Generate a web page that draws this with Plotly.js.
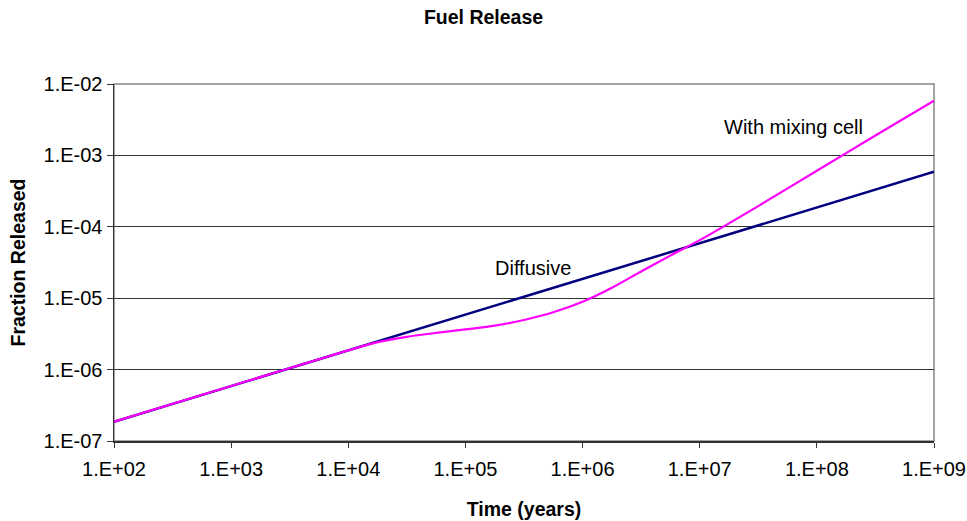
<!DOCTYPE html>
<html>
<head>
<meta charset="utf-8">
<script src="https://cdn.plot.ly/plotly-3.0.1.min.js"></script>
<style>html,body{margin:0;padding:0;background:#fff;}#chart{width:967px;height:521px;}</style>
</head>
<body>
<div id="chart"></div>
<script>
// Time (years)
const diffusiveTime = [1e2, 1e3, 1e4, 1e5, 1e6, 1e7, 1e8, 1e9];
const diffusiveFraction = [1.86e-7, 5.9e-7, 1.86e-6, 5.9e-6, 1.86e-5, 5.9e-5, 1.86e-4, 5.9e-4];

const mixingTime = [1e2, 1e3, 1e4, 1.78e4, 3.16e4, 5.62e4, 1e5, 1.78e5, 3.16e5, 5.62e5, 1e6, 1.78e6, 3.16e6, 5.62e6, 1e7, 3.16e7, 1e8, 3.16e8, 1e9];
const mixingFraction = [1.86e-7, 5.9e-7, 1.86e-6, 2.43e-6, 2.88e-6, 3.27e-6, 3.66e-6, 4.12e-6, 4.95e-6, 6.35e-6, 8.9e-6, 1.40e-5, 2.37e-5, 3.95e-5, 6.5e-5, 1.95e-4, 6.1e-4, 1.9e-3, 5.85e-3];

const xTickVals = [1e2, 1e3, 1e4, 1e5, 1e6, 1e7, 1e8, 1e9];
const xTickText = ["1.E+02", "1.E+03", "1.E+04", "1.E+05", "1.E+06", "1.E+07", "1.E+08", "1.E+09"];
const yTickVals = [1e-7, 1e-6, 1e-5, 1e-4, 1e-3, 1e-2];
const yTickText = ["1.E-07", "1.E-06", "1.E-05", "1.E-04", "1.E-03", "1.E-02"];

const FONT = "Liberation Sans, Arial, sans-serif";

const traces = [
  {
    x: diffusiveTime, y: diffusiveFraction, type: "scatter", mode: "lines",
    name: "Diffusive", line: {color: "#000080", width: 2.5}, hoverinfo: "x+y"
  },
  {
    x: mixingTime, y: mixingFraction, type: "scatter", mode: "lines",
    name: "With mixing cell", line: {color: "#FF00FF", width: 2.2, shape: "spline", smoothing: 0.8}, hoverinfo: "x+y"
  }
];

const layout = {
  width: 967, height: 521,
  margin: {l: 114, r: 33, t: 84, b: 80},
  paper_bgcolor: "#fff", plot_bgcolor: "#fff",
  showlegend: false,
  font: {family: FONT, size: 20, color: "#000"},
  title: {text: "<b>Fuel Release</b>", font: {family: FONT, size: 19.5, color: "#000"}, x: 0.5, xref: "container", xanchor: "center", y: 0.967, yref: "container", yanchor: "middle"},
  xaxis: {
    type: "log", range: [2, 9],
    tickvals: xTickVals, ticktext: xTickText,
    ticks: "outside", ticklen: 5, tickcolor: "#333", tickwidth: 1,
    ticklabelstandoff: 4,
    showgrid: false, zeroline: false,
    showline: true, linecolor: "#333", linewidth: 1.5,
    tickfont: {family: FONT, size: 20, color: "#000"},
    title: {text: "<b>Time (years)</b>", font: {family: FONT, size: 19.5, color: "#000"}, standoff: 24}
  },
  yaxis: {
    type: "log", range: [-7, -2],
    tickvals: yTickVals, ticktext: yTickText,
    ticks: "outside", ticklen: 6, tickcolor: "#333", tickwidth: 1,
    showgrid: true, gridcolor: "#333", gridwidth: 1,
    zeroline: false,
    showline: true, linecolor: "#333", linewidth: 1.5,
    tickfont: {family: FONT, size: 20, color: "#000"},
    title: {text: "<b>Fraction Released</b>", font: {family: FONT, size: 19.5, color: "#000"}, standoff: 12}
  },
  shapes: [
    {type: "rect", xref: "paper", yref: "paper", x0: 0, x1: 1, y0: 0, y1: 1, line: {color: "#888", width: 1.5}, layer: "below"}
  ],
  annotations: [
    {x: Math.log10(3.8e5), y: Math.log10(2.65e-5), xref: "x", yref: "y", text: "Diffusive", showarrow: false, font: {family: FONT, size: 20, color: "#000"}},
    {x: Math.log10(6.3e7), y: Math.log10(2.5e-3), xref: "x", yref: "y", text: "With mixing cell", showarrow: false, font: {family: FONT, size: 20, color: "#000"}}
  ]
};

Plotly.newPlot("chart", traces, layout, {displayModeBar: false, staticPlot: true});
</script>
</body>
</html>
